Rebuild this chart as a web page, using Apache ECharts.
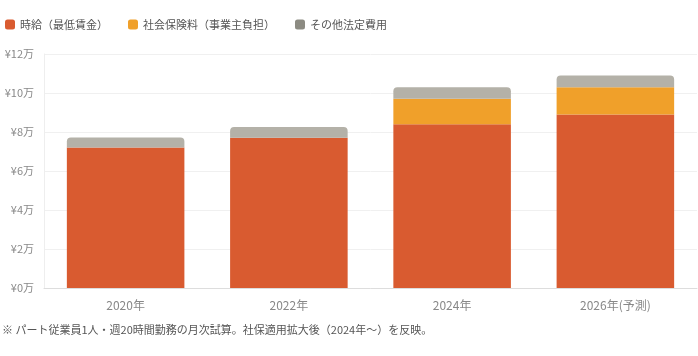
<!DOCTYPE html>
<html><head><meta charset="utf-8">
<script src="https://cdn.jsdelivr.net/npm/echarts@6/dist/echarts.min.js"></script>
<style>html,body{margin:0;padding:0;background:#fff}#c{width:698px;height:356px}</style>
</head><body><div id="c"></div>
<script>
var categories = ['2020年', '2022年', '2024年', '2026年(予測)'];
var wage = [7.2, 7.7, 8.4, 8.9];
var social = [0, 0, 1.3, 1.4];
var other = [0.52, 0.56, 0.6, 0.6];
var seriesNames = ['時給（最低賃金）', '社会保険料（事業主負担）', 'その他法定費用'];
var yTicks = [0, 2, 4, 6, 8, 10, 12];
var note = '※ パート従業員1人・週20時間勤務の月次試算。社保適用拡大後（2024年〜）を反映。';

var font = '"Noto Sans CJK JP", "Noto Sans", sans-serif';
var chart = echarts.init(document.getElementById('c'), null, {renderer: 'canvas'});
chart.setOption({
  animation: false,
  textStyle: {fontFamily: font},
  legend: {
    left: 0, top: 14, itemWidth: 10, itemHeight: 10, itemGap: 20,
    textStyle: {fontSize: 11, color: '#555', fontFamily: font},
    icon: 'roundRect',
    data: [
      {name: seriesNames[0], itemStyle: {color: '#D95B30'}},
      {name: seriesNames[1], itemStyle: {color: '#F0A02A'}},
      {name: seriesNames[2], itemStyle: {color: '#8C8B82'}}
    ]
  },
  graphic: [{type: 'text', left: 2, top: 324, style: {text: note, fontSize: 11, fill: '#555', fontFamily: font}}],
  grid: {left: 44, right: 1, top: 54, bottom: 68},
  xAxis: {
    type: 'category', data: categories,
    axisLine: {lineStyle: {color: '#ddd'}}, axisTick: {show: false},
    axisLabel: {color: '#888', fontSize: 12, margin: 11, fontFamily: font}
  },
  yAxis: {
    type: 'value', min: yTicks[0], max: yTicks[yTicks.length - 1], interval: 2,
    axisLine: {show: true, lineStyle: {color: '#eee'}},
    splitLine: {lineStyle: {color: '#f0f0f0'}},
    axisLabel: {color: '#888', fontSize: 11, margin: 10, formatter: '¥{value}万', fontFamily: font}
  },
  series: [
    {name: seriesNames[0], type: 'bar', stack: 't', data: wage, barWidth: '72%', itemStyle: {color: '#D95B30'}},
    {name: seriesNames[1], type: 'bar', stack: 't', data: social, itemStyle: {color: '#F0A02A'}},
    {name: seriesNames[2], type: 'bar', stack: 't', data: other, itemStyle: {color: '#B4B1A8', borderRadius: [4, 4, 0, 0]}}
  ]
});
</script></body></html>
